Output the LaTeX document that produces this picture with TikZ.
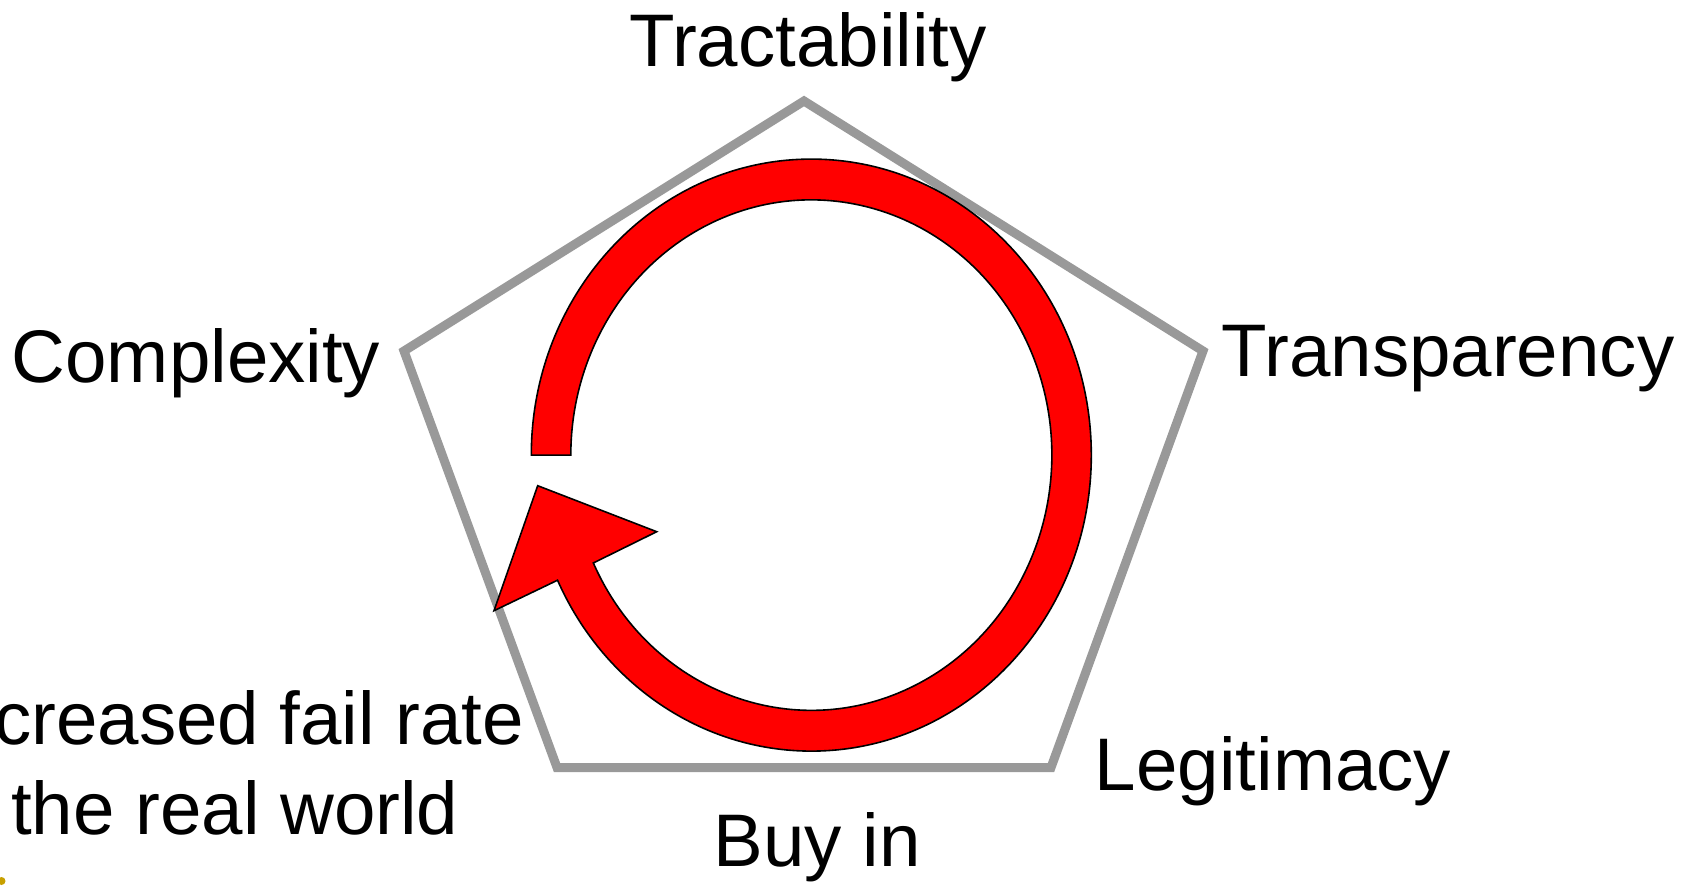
\documentclass[tikz,border=0pt]{standalone}
\usepackage{fontspec}
\setmainfont{Liberation Sans}
\usetikzlibrary{calc}
\definecolor{pentagray}{RGB}{153,153,153}
\definecolor{arrowred}{RGB}{255,0,0}
\definecolor{logogold}{RGB}{200,160,0}
\tikzset{
  pentaline/.style={draw=pentagray, line width=9pt, line join=miter},
  arrowband/.style={fill=arrowred, draw=black, line width=1.6pt, line join=miter},
  lbl/.style={inner sep=0pt, font=\fontsize{74.5}{90}\selectfont, text=black},
}
\begin{document}
\begin{tikzpicture}[x=1pt,y=1pt]
\useasboundingbox (0,0) rectangle (1685,-886);
% pentagon corners
\coordinate (pT) at (804,-101);
\coordinate (pR) at (1203,-351);
\coordinate (pBR) at (1051,-767.5);
\coordinate (pBL) at (557,-767.5);
\coordinate (pL) at (404,-351);
\draw[pentaline] (pT) -- (pR) -- (pBR) -- (pBL) -- (pL) -- cycle;
% circular arrow
\coordinate (c) at (811.3,-455.1);
\coordinate (wingL) at (494,-610.7);
\coordinate (tip) at (537.7,-485.7);
\coordinate (wingR) at (656.7,-531.7);
\path[arrowband] ($(c)+(180:280pt and 296pt)$)
  arc[start angle=180, end angle=-155, x radius=280pt, y radius=296pt]
  -- (wingL) -- (tip) -- (wingR)
  -- ($(c)+(-155:240.5pt and 255.2pt)$)
  arc[start angle=-155, end angle=180, x radius=240.5pt, y radius=255.2pt]
  -- cycle;
% labels
\node[lbl, anchor=base] (tract) at (808,-66) {Tractability};
\node[lbl, anchor=base] (compl) at (196,-382) {Complexity};
\node[lbl, anchor=base] (transp) at (1448,-376) {Transparency};
\node[lbl, anchor=base] (legit) at (1273,-790) {Legitimacy};
\node[lbl, anchor=base] (buyin) at (817,-866) {Buy in};
\node[lbl, anchor=base west] (fail1) at (-6,-744) {creased fail rate};
\node[lbl, anchor=base west] (fail2) at (11,-834) {the real world};
% tiny logo fragment
\fill[logogold] (1.5,-881) circle (4pt);
\end{tikzpicture}
\end{document}
